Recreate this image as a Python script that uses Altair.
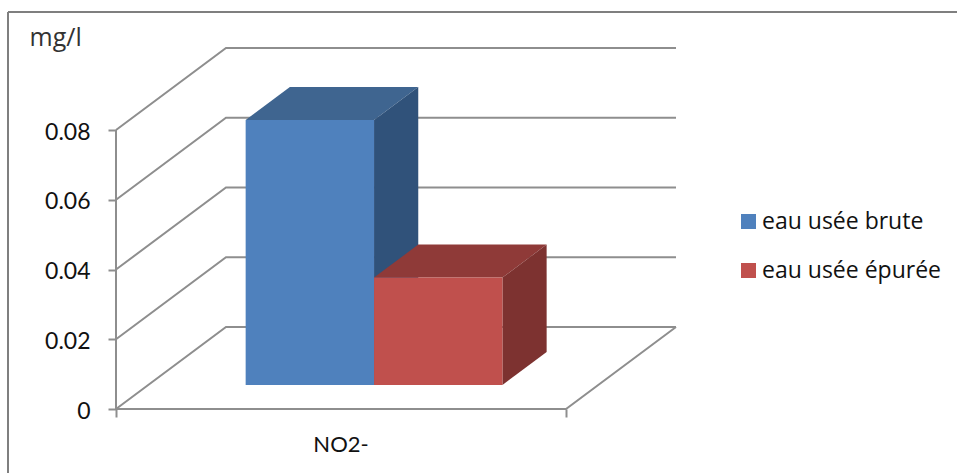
import altair as alt
import pandas as pd

# Values read along the value axis
categories = ["NO2-"]
series = ["eau usée brute", "eau usée épurée"]
values = [0.076, 0.0308]
ticks = [0, 0.02, 0.04, 0.06, 0.08]
front_colors = ["#4F81BD", "#C0504D"]
top_colors = ["#3F6590", "#8F3A38"]
side_colors = ["#30527A", "#7D3230"]

GRID = "#8E8E8E"
FONT = "Lato"

# Oblique projection: one unit of depth shifts a point right and upward
DEPTH_X = 110 / 450
DEPTH_Y = 82 / 3487.5
BAR_START = 0.2165
BAR_WIDTH = 0.2853
DEPTH_NEAR = 0.293
DEPTH_FAR = 0.695

x_scale = alt.Scale(domain=[0, 841 / 450], nice=False, zero=False)
y_scale = alt.Scale(domain=[-64 / 3487.5, 409 / 3487.5], nice=False, zero=False)


def project(u, v, depth):
    return u + depth * DEPTH_X, v + depth * DEPTH_Y


# Wall and floor lines
line_rows = []
for t in ticks:
    for u, v, d in [(0, t, 0), (0, t, 1), (1, t, 1)]:
        px, py = project(u, v, d)
        line_rows.append({"path": f"grid{t}", "u": px, "v": py})
for name, pts in {
    "axis": [(0, 0, 0), (0, ticks[-1], 0)],
    "floor": [(0, 0, 0), (1, 0, 0), (1, 0, 1)],
}.items():
    for u, v, d in pts:
        px, py = project(u, v, d)
        line_rows.append({"path": name, "u": px, "v": py})
lines_df = pd.DataFrame(line_rows)

# Axes only: ticks and labels for the value axis, end ticks for the category axis
axes = (
    alt.Chart(pd.DataFrame({"u": [0, 1], "v": [0, 0]}))
    .mark_point(opacity=0)
    .encode(
        x=alt.X(
            "u:Q",
            scale=x_scale,
            axis=alt.Axis(
                values=[0, 1], labels=False, title=None, domain=False, grid=False,
                tickSize=8, tickColor=GRID, tickWidth=2, offset=-64, orient="bottom",
            ),
        ),
        y=alt.Y(
            "v:Q",
            scale=y_scale,
            axis=alt.Axis(
                values=ticks, labelExpr="datum.value === 0 ? '0' : format(datum.value, '.2f')",
                domain=False, grid=False, tickSize=8, tickColor=GRID, tickWidth=2,
                labelFont=FONT, labelFontSize=23, labelColor="#111111", labelPadding=18,
                labelOffset=2,
                title="mg/l", titleFont="Open Sans", titleFontSize=25, titleFontWeight="normal",
                titleColor="#333333", titleAngle=0, titleAlign="left", titleBaseline="alphabetic",
                titleX=-87, titleY=45,
            ),
        ),
    )
)

lines = (
    alt.Chart(lines_df)
    .mark_line(color=GRID, strokeWidth=2)
    .encode(
        x=alt.X("u:Q", scale=x_scale, axis=None),
        y=alt.Y("v:Q", scale=y_scale, axis=None),
        detail="path:N",
        order=alt.Order("idx:Q"),
    )
    .transform_window(idx="row_number()", groupby=["path"])
)

# Three visible faces per bar
bar_layers = []
for i, (name, val) in enumerate(zip(series, values)):
    left = BAR_START + i * BAR_WIDTH
    right = left + BAR_WIDTH
    x0, y0 = project(left, 0, DEPTH_NEAR)
    x1, y1 = project(right, val, DEPTH_NEAR)
    xb0, yb0 = project(left, val, DEPTH_FAR)
    xb1, yb_floor = project(right, 0, DEPTH_FAR)
    xb1, yb_top = project(right, val, DEPTH_FAR)

    top_df = pd.DataFrame(
        {"y": [y1, yb_top], "xa": [x0, xb0], "xb": [x1, xb1]}
    )
    top = (
        alt.Chart(top_df)
        .mark_area(orient="horizontal", color=top_colors[i], opacity=1)
        .encode(
            y=alt.Y("y:Q", scale=y_scale, axis=None),
            x=alt.X("xa:Q", scale=x_scale, axis=None),
            x2="xb:Q",
        )
    )
    side_df = pd.DataFrame(
        {"x": [x1, xb1], "low": [y0, yb_floor], "high": [y1, yb_top]}
    )
    side = (
        alt.Chart(side_df)
        .mark_area(color=side_colors[i], opacity=1)
        .encode(
            x=alt.X("x:Q", scale=x_scale, axis=None),
            y=alt.Y("low:Q", scale=y_scale, axis=None),
            y2="high:Q",
        )
    )
    front_df = pd.DataFrame(
        {"series": [name], "x0": [x0], "x1": [x1], "low": [y0], "high": [y1]}
    )
    front = (
        alt.Chart(front_df)
        .mark_rect(opacity=1)
        .encode(
            x=alt.X("x0:Q", scale=x_scale, axis=None),
            x2="x1:Q",
            y=alt.Y("low:Q", scale=y_scale, axis=None),
            y2="high:Q",
            color=alt.Color(
                "series:N",
                scale=alt.Scale(domain=series, range=front_colors),
                legend=alt.Legend(
                    orient="none", legendX=621, legendY=210, title=None, padding=0,
                    symbolType="square", symbolSize=225, symbolStrokeWidth=0,
                    symbolOpacity=1, labelFont="Open Sans", labelFontSize=23,
                    labelColor="#111111", labelOffset=2, rowPadding=25, labelLimit=300,
                ),
            ),
        )
    )
    bar_layers += [top, side, front]

# Category label under the floor
label = (
    alt.Chart(pd.DataFrame({"cat": categories, "u": [0.5], "v": [-36 / 3487.5]}))
    .mark_text(font=FONT, fontSize=22, color="#111111")
    .encode(
        x=alt.X("u:Q", scale=x_scale, axis=None),
        y=alt.Y("v:Q", scale=y_scale, axis=None),
        text="cat:N",
    )
)

# Outer frame, open on the right and at the bottom
frame_left = (
    alt.Chart(pd.DataFrame({"a": [0]}))
    .mark_rule(color="#7F7F7F", strokeWidth=2)
    .encode(x=alt.value(-108), y=alt.value(12), y2=alt.value(473))
)
frame_top = (
    alt.Chart(pd.DataFrame({"a": [0]}))
    .mark_rule(color="#7F7F7F", strokeWidth=2)
    .encode(x=alt.value(-108), x2=alt.value(841), y=alt.value(12))
)

chart = (
    alt.layer(frame_left, frame_top, lines, *bar_layers, label, axes)
    .resolve_scale(color="shared")
    .resolve_axis(x="independent", y="independent")
    .properties(
        width=841,
        height=473,
        padding={"left": 116, "top": 0, "right": 0, "bottom": 0},
        autosize=alt.AutoSizeParams(type="none"),
        background="white",
    )
    .configure_view(stroke=None)
)

chart.save("out.html", embed_options={"renderer": "svg", "actions": False})
